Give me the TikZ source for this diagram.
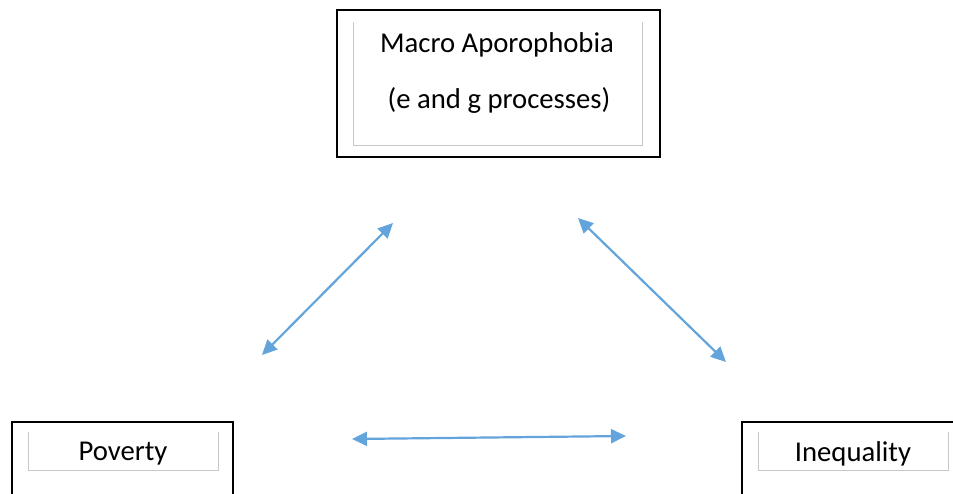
\documentclass[tikz,border=0pt]{standalone}
\usepackage{fontspec}
\setmainfont{Carlito}
\usetikzlibrary{arrows.meta}
\definecolor{linkblue}{HTML}{62A4DB}
\definecolor{framegray}{HTML}{C8C8C8}
\tikzset{
  outerbox/.style={draw=black, line width=2.3pt},
  innerframe/.style={draw=framegray, line width=0.9pt},
  label/.style={font=\fontsize{28.7}{34}\selectfont, inner sep=0pt, anchor=center},
  link/.style={draw=linkblue, line width=2.2pt,
    {Triangle[length=15pt,width=14pt]}-{Triangle[length=15pt,width=14pt]}}
}
\begin{document}
\begin{tikzpicture}[x=1pt,y=-1pt]
  \useasboundingbox (0,0) rectangle (953,493);
  \clip (0,0) rectangle (953,493);

  % Macro Aporophobia box
  \draw[outerbox] (337,10) rectangle (660,157);
  \draw[innerframe] (353,22) |- (642,145) -- (642,22);
  \node[label] (macro) at (497,45) {Macro Aporophobia};
  \node[label] (proc) at (499,100) {(e and g processes)};

  % Poverty box
  \draw[outerbox] (12,422) rectangle (233,520);
  \draw[innerframe] (28,432) |- (218,470) -- (218,432);
  \node[label] (poverty) at (123,454) {Poverty};

  % Inequality box
  \draw[outerbox] (742,422) rectangle (980,520);
  \draw[innerframe] (758,432) |- (948,470) -- (948,432);
  \node[label] (inequality) at (853,454) {Inequality};

  % arrow end points
  \coordinate (lA) at (262,355);
  \coordinate (lB) at (393,223);
  \coordinate (rA) at (578,218);
  \coordinate (rB) at (726,362);
  \coordinate (bA) at (352,439);
  \coordinate (bB) at (626,436);

  \draw[link] (lA) -- (lB);
  \draw[link] (rA) -- (rB);
  \draw[link] (bA) -- (bB);
\end{tikzpicture}
\end{document}
